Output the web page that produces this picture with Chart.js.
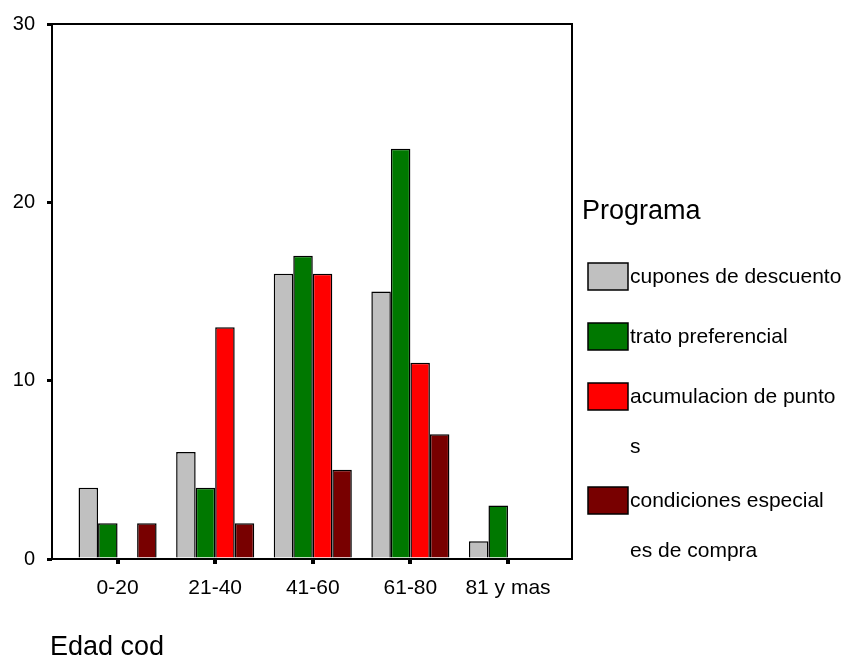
<!DOCTYPE html>
<html>
<head>
<meta charset="utf-8">
<script src="https://cdn.jsdelivr.net/npm/chart.js@4/dist/chart.umd.min.js"></script>
<style>
  html, body { margin: 0; padding: 0; background: #fff; }
  #wrap { width: 852px; height: 662px; position: relative; }
</style>
</head>
<body>
<div id="wrap"><canvas id="c" width="852" height="662"></canvas></div>
<script>
// Age groups (x axis) and counts per program
const categories = ['0-20', '21-40', '41-60', '61-80', '81 y mas'];
const cupones      = [4, 6, 16, 15, 1];
const trato        = [2, 4, 17, 23, 3];
const acumulacion  = [0, 13, 16, 11, 0];
const condiciones  = [2, 2, 5, 7, 0];

// Legend entries, split over lines the way they are printed
const seriesNames = [
  ['cupones de descuento'],
  ['trato preferencial'],
  ['acumulacion de punto', 's'],
  ['condiciones especial', 'es de compra']
];
const seriesColors = ['#c0c0c0', '#007800', '#ff0000', '#780000'];
const yTicks = [0, 10, 20, 30];

const FONT = "'Liberation Sans', Arial, sans-serif";

const seriesValues = [cupones, trato, acumulacion, condiciones];
const datasets = seriesValues.map((vals, i) => ({
  label: seriesNames[i].join(''),
  data: vals.map((v, j) => ({ x: j + 1, y: v })),
  backgroundColor: seriesColors[i],
  borderColor: '#000',
  borderWidth: 1.5,
  borderSkipped: 'start',
  categoryPercentage: 0.8,
  barPercentage: 1.0
}));

// Frame around the plot area, legend and axis title
const decor = {
  id: 'decor',
  afterDatasetsDraw(chart) {
    const { ctx, chartArea: a } = chart;
    ctx.save();
    ctx.strokeStyle = '#000';
    ctx.lineWidth = 2;
    ctx.strokeRect(a.left, a.top, a.right - a.left, a.bottom - a.top);
    ctx.restore();
  },
  afterDraw(chart) {
    const { ctx } = chart;
    ctx.save();
    ctx.fillStyle = '#000';
    ctx.textBaseline = 'middle';
    ctx.textAlign = 'left';

    ctx.font = '27px ' + FONT;
    ctx.fillText('Programa', 582, 212);

    const boxTops = [263, 323, 383, 487];
    ctx.font = '21px ' + FONT;
    chart.data.datasets.forEach((ds, i) => {
      const y = boxTops[i];
      ctx.fillStyle = ds.backgroundColor;
      ctx.fillRect(588, y, 40, 27);
      ctx.strokeStyle = '#000';
      ctx.lineWidth = 1.5;
      ctx.strokeRect(588, y, 40, 27);
      ctx.fillStyle = '#000';
      seriesNames[i].forEach((line, k) => {
        ctx.fillText(line, 630, y + 14 + k * 50);
      });
    });

    ctx.font = '27px ' + FONT;
    ctx.fillText('Edad cod', 50, 648);
    ctx.restore();
  }
};

new Chart(document.getElementById('c'), {
  type: 'bar',
  data: { datasets },
  options: {
    responsive: false,
    animation: false,
    devicePixelRatio: 1,
    layout: { padding: { left: 0, top: 15, right: 280, bottom: 0 } },
    plugins: {
      legend: { display: false },
      tooltip: { enabled: false }
    },
    scales: {
      x: {
        type: 'linear',
        min: 0.328,
        max: 5.656,
        offset: false,
        afterFit(scale) { scale.height = 103; },
        afterBuildTicks(scale) { scale.ticks = categories.map((c, i) => ({ value: i + 1 })); },
        border: { display: false },
        grid: {
          display: true,
          offset: false,
          drawOnChartArea: false,
          drawTicks: true,
          tickLength: 5,
          color: '#000',
          lineWidth: 4
        },
        ticks: {
          autoSkip: false,
          maxRotation: 0,
          padding: 12,
          color: '#000',
          font: { family: FONT, size: 21 },
          callback: (v) => categories[Math.round(v) - 1]
        }
      },
      y: {
        min: 0,
        max: 30,
        afterFit(scale) { scale.width = 52; },
        afterBuildTicks(scale) { scale.ticks = yTicks.map(v => ({ value: v })); },
        border: { display: false },
        grid: {
          display: true,
          drawOnChartArea: false,
          drawTicks: true,
          tickLength: 5,
          color: '#000',
          lineWidth: 3
        },
        ticks: {
          padding: 12,
          color: '#000',
          font: { family: FONT, size: 20 }
        }
      }
    }
  },
  plugins: [decor]
});
</script>
</body>
</html>
